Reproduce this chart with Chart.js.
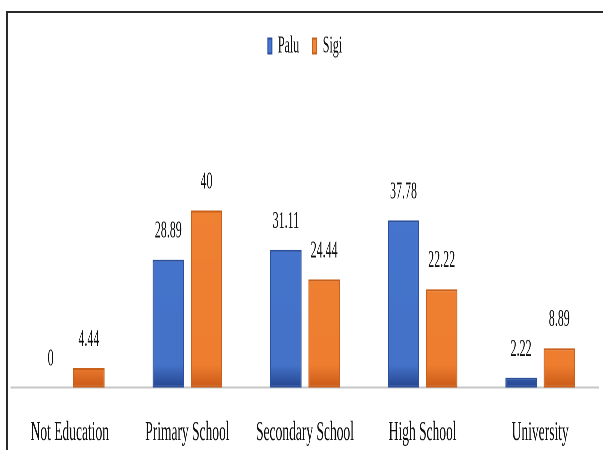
<!DOCTYPE html>
<html>
<head>
<meta charset="utf-8">
<script src="https://cdn.jsdelivr.net/npm/chart.js@4.4.1/dist/chart.umd.min.js"></script>
<style>
  html, body { margin: 0; padding: 0; width: 603px; height: 450px; overflow: hidden; background: #fff; }
  #frame { position: absolute; left: 6px; top: 11px; width: 640px; height: 520px; border: 2px solid #2a2a2a; box-sizing: border-box; }
  #wrap { position: absolute; left: 0; top: 0; width: 1206px; height: 485px; transform: scaleX(0.5); transform-origin: 0 0; }
</style>
</head>
<body>
<div id="frame"></div>
<div id="wrap"><canvas id="c"></canvas></div>
<script>
const categories = ["Not Education", "Primary School", "Secondary School", "High School", "University"];
const seriesNames = ["Palu", "Sigi"];
const paluValues = [0, 28.89, 31.11, 37.78, 2.22];
const sigiValues = [4.44, 40, 24.44, 22.22, 8.89];

const FONT = "'Liberation Serif', 'Times New Roman', serif";

function grad(ctx, top, mid, bottom) {
  const chart = ctx.chart;
  const a = chart.chartArea;
  if (!a) return mid;
  const g = chart.ctx.createLinearGradient(0, a.top, 0, a.bottom);
  g.addColorStop(0, top);
  g.addColorStop(0.93, mid);
  g.addColorStop(1, bottom);
  return g;
}

const valueLabels = {
  id: 'valueLabels',
  afterDatasetsDraw(chart) {
    const ctx = chart.ctx;
    ctx.save();
    ctx.font = "24px " + FONT;
    ctx.fillStyle = "#111";
    ctx.textAlign = "center";
    ctx.textBaseline = "alphabetic";
    chart.data.datasets.forEach((ds, di) => {
      chart.getDatasetMeta(di).data.forEach((bar, i) => {
        ctx.fillText(String(ds.data[i]), bar.x, bar.y - 22);
      });
    });
    ctx.restore();
  }
};

new Chart(document.getElementById('c'), {
  type: 'bar',
  data: {
    labels: categories,
    datasets: [
      {
        label: seriesNames[0],
        data: paluValues,
        backgroundColor: (c) => grad(c, '#4676d2', '#4472c8', '#25458f'),
        borderColor: '#2a4f9e',
        borderWidth: 2,
        borderSkipped: false
      },
      {
        label: seriesNames[1],
        data: sigiValues,
        backgroundColor: (c) => grad(c, '#f08538', '#ee7d2f', '#c95a17'),
        borderColor: '#c8601c',
        borderWidth: 2,
        borderSkipped: false
      }
    ]
  },
  options: {
    responsive: true,
    maintainAspectRatio: false,
    devicePixelRatio: 2,
    animation: false,
    layout: { padding: { left: 22, right: 8, top: 7, bottom: 7 } },
    datasets: { bar: { barPercentage: 0.82, categoryPercentage: 0.65 } },
    plugins: {
      legend: {
        position: 'top',
        labels: {
          font: { family: FONT, size: 24 },
          color: '#111',
          boxWidth: 8,
          boxHeight: 15,
          padding: 27
        }
      },
      tooltip: { enabled: false }
    },
    scales: {
      x: {
        grid: { display: false, drawTicks: false },
        border: { display: true, color: '#c6c6c6', width: 2 },
        ticks: { font: { family: FONT, size: 27 }, color: '#111', padding: 29, maxRotation: 0, autoSkip: false }
      },
      y: {
        display: false,
        min: 0,
        max: 72.2
      }
    }
  },
  plugins: [valueLabels]
});
</script>
</body>
</html>
